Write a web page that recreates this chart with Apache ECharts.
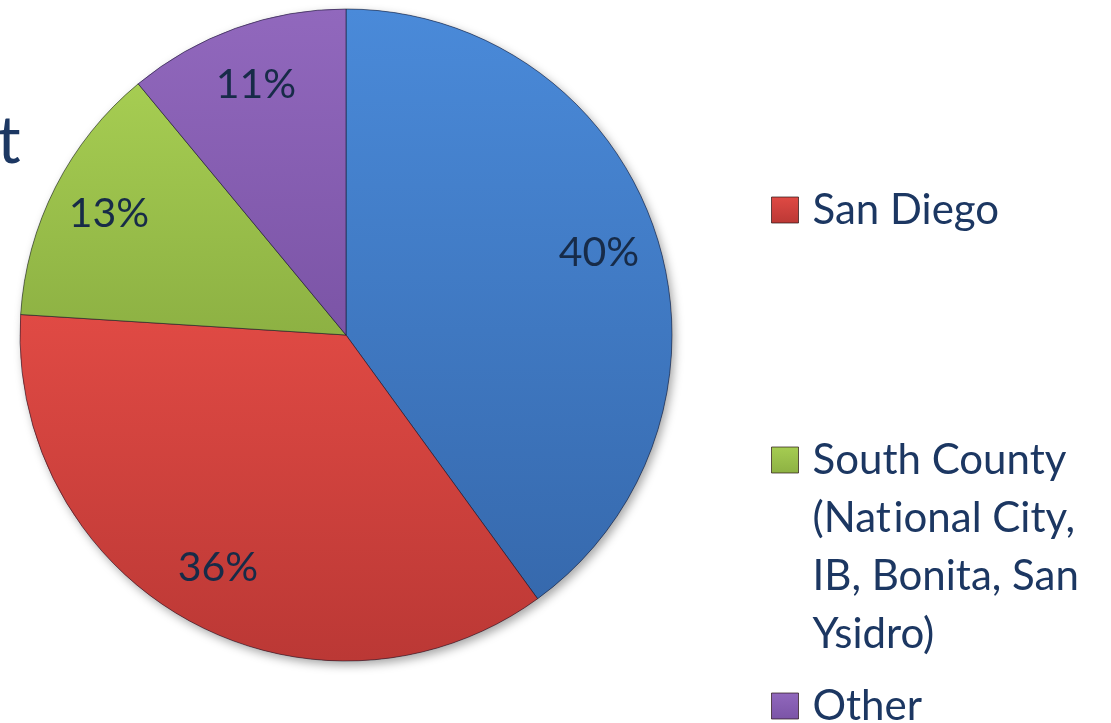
<!DOCTYPE html>
<html>
<head>
<meta charset="utf-8">
<script src="https://cdn.jsdelivr.net/npm/echarts@6/dist/echarts.min.js"></script>
<style>
html,body{margin:0;padding:0;background:#fff;}
#chart{width:1111px;height:723px;}
</style>
</head>
<body>
<div id="chart"></div>
<script>
// ---- data ----
const categories = ['Not shown', 'San Diego', 'South County (National City, IB, Bonita, San Ysidro)', 'Other'];
const values = [40, 36, 13, 11];
const legendNames = ['San Diego', 'South County (National City, IB, Bonita, San Ysidro)', 'Other'];
const legendLabels = ['San Diego', 'South County\n(Nat\u200Aional City,\nIB, Bonita, San\nYsidro)', 'Other'];
const colorTop = ['#4a8ad9', '#e04a44', '#a6cd52', '#9168bd'];
const colorBottom = ['#3669ad', '#bb3835', '#8db143', '#7b54a6'];

const chart = echarts.init(document.getElementById('chart'), null, {renderer: 'canvas'});
const grad = i => new echarts.graphic.LinearGradient(0, 0, 0, 1, [
  {offset: 0, color: colorTop[i]}, {offset: 1, color: colorBottom[i]}
]);
const pieData = categories.map((c, i) => ({name: c, value: values[i], itemStyle: {color: grad(i)}}));
const center = [346, 335];
const R = 326;
const textColor = '#1c3762';

const legendTops = [181, 257, 677];
const legends = legendNames.map((n, k) => ({
  data: [n],
  orient: 'vertical',
  left: 771,
  top: legendTops[k],
  padding: 0,
  itemWidth: 27,
  itemHeight: 26,
  selectedMode: false,
  icon: 'rect',
  itemStyle: {borderColor: 'rgba(40,20,20,0.7)', borderWidth: 1},
  formatter: name => {
    const lbl = legendLabels[legendNames.indexOf(name)];
    const lines = lbl.split('\n').length;
    return '\n'.repeat(lines - 1) + lbl;
  },
  textStyle: {
    fontFamily: 'Lato', fontSize: 42, color: textColor, lineHeight: 58,
    padding: [0, 0, 0, 9]
  }
}));

chart.setOption({
  animation: false,
  legend: legends,
  graphic: [{
    type: 'text', left: -3, top: 109,
    style: {text: 't', fontFamily: 'Lato', fontSize: 66, fill: textColor}
  }],
  series: [
    {
      type: 'pie', center: center, radius: R, startAngle: 90, silent: true, z: 1,
      label: {show: false}, labelLine: {show: false},
      itemStyle: {shadowBlur: 10, shadowColor: 'rgba(0,0,0,0.35)', shadowOffsetX: 3, shadowOffsetY: 4},
      data: pieData
    },
    {
      type: 'pie', center: center, radius: R, startAngle: 90, z: 2,
      label: {show: false}, labelLine: {show: false},
      itemStyle: {borderColor: 'rgba(20,20,40,0.55)', borderWidth: 1},
      emphasis: {disabled: true},
      data: pieData
    },
    {
      type: 'pie', center: center, radius: [200, R], startAngle: 90, silent: true, z: 3,
      itemStyle: {color: 'rgba(0,0,0,0)'},
      label: {
        show: true, position: 'inside', formatter: '{d}%',
        fontFamily: 'Lato', fontSize: 41, color: '#172b48'
      },
      labelLine: {show: false},
      data: categories.map((c, i) => ({name: c, value: values[i]}))
    }
  ]
});
</script>
</body>
</html>
